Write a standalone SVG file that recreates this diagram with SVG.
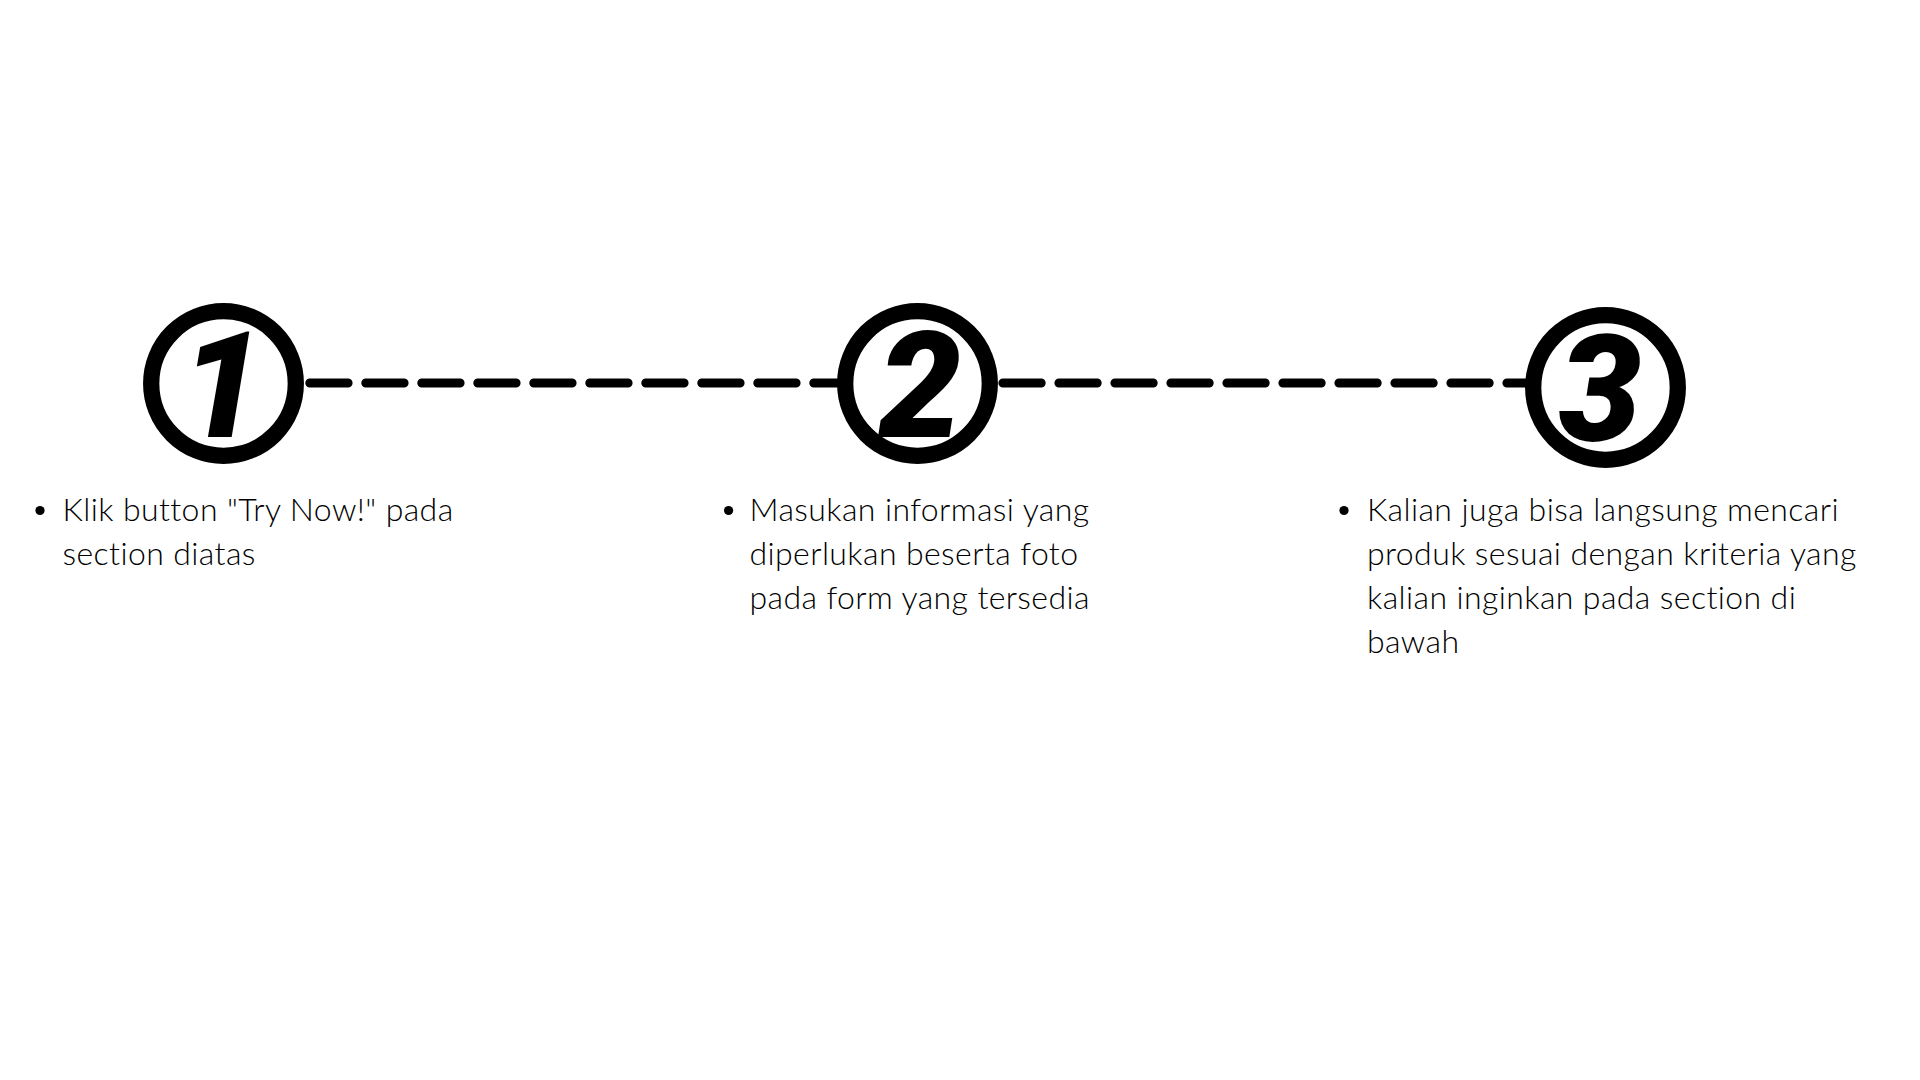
<svg xmlns="http://www.w3.org/2000/svg" width="1920" height="1080" viewBox="0 0 1920 1080">
<style>
.ring{fill:#fff;stroke:#000;stroke-width:16.3}
.num{font-family:Roboto,Lato,"DejaVu Sans",sans-serif;font-weight:900;font-style:italic;font-size:148px;fill:#000;text-anchor:middle}
.dash{fill:none;stroke:#000;stroke-width:9;stroke-linecap:round;stroke-dasharray:38.3 17.7}
.txt{font-family:Lato,"Liberation Sans",sans-serif;font-weight:300;font-size:32px;letter-spacing:0.4px;fill:#000}
.dot{fill:#000}
</style>
<rect width="1920" height="1080" fill="#fff"/>
<g id="connectors">
<line class="dash" x1="309.8" y1="383" x2="840" y2="383"/>
<line class="dash" x1="1002.9" y1="383" x2="1528" y2="383"/>
</g>
<g id="node1">
<circle class="ring" cx="223.5" cy="383.5" r="72.3"/>
<text class="num" x="222" y="437">1</text>
</g>
<g id="node2">
<circle class="ring" cx="917.5" cy="383.5" r="72.3"/>
<text class="num" x="920" y="437">2</text>
</g>
<g id="node3">
<circle class="ring" cx="1605.5" cy="387.5" r="72.3"/>
<text class="num" x="1600" y="440">3</text>
</g>
<g id="text1">
<circle class="dot" cx="40" cy="510.5" r="4.6"/>
<text class="txt" x="62.5" y="521"><tspan x="62.5" y="521">Klik button "Try Now!" pada</tspan><tspan x="62.5" y="565">section diatas</tspan></text>
</g>
<g id="text2">
<circle class="dot" cx="728.6" cy="510.5" r="4.6"/>
<text class="txt" x="749.5" y="521"><tspan x="749.5" y="521">Masukan informasi yang</tspan><tspan x="749.5" y="565">diperlukan beserta foto</tspan><tspan x="749.5" y="609">pada form yang tersedia</tspan></text>
</g>
<g id="text3">
<circle class="dot" cx="1344" cy="510.5" r="4.6"/>
<text class="txt" x="1367" y="521"><tspan x="1367" y="521">Kalian juga bisa langsung mencari</tspan><tspan x="1367" y="565">produk sesuai dengan kriteria yang</tspan><tspan x="1367" y="609">kalian inginkan pada section di</tspan><tspan x="1367" y="653">bawah</tspan></text>
</g>
</svg>
